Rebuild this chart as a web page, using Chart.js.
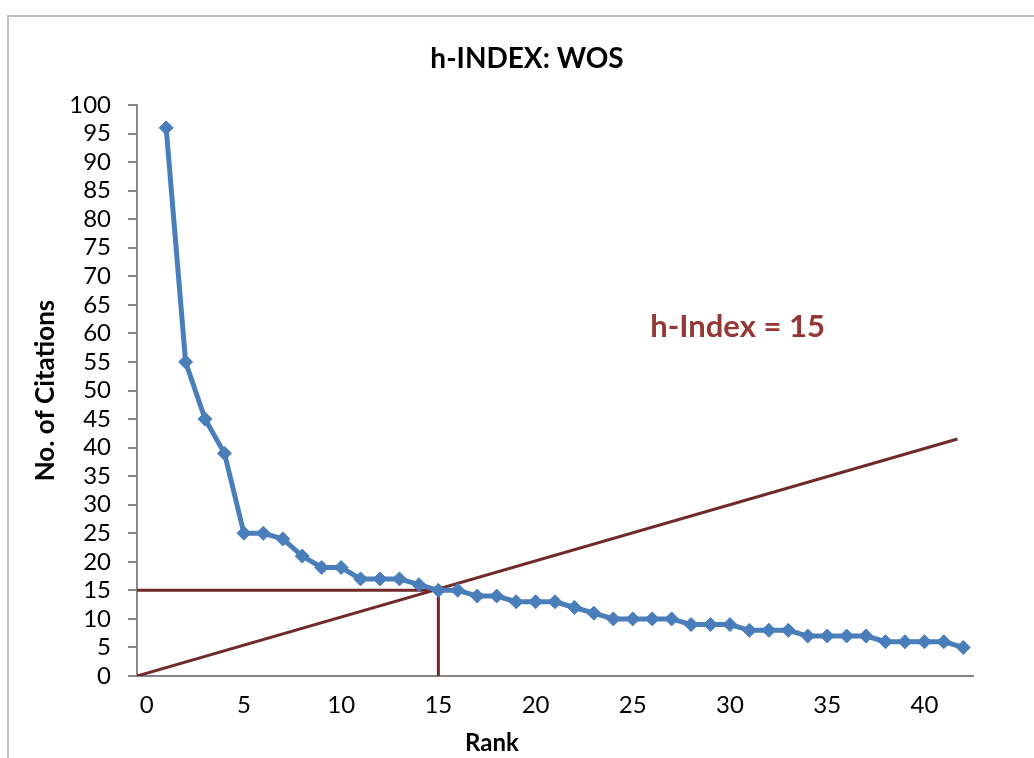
<!DOCTYPE html>
<html><head><meta charset="utf-8">
<script src="https://cdn.jsdelivr.net/npm/chart.js@4/dist/chart.umd.min.js"></script>
<style>
html,body{margin:0;padding:0;background:#fff;overflow:hidden;width:1034px;height:758px;}
#frame{position:absolute;left:7px;top:15px;width:1040px;height:760px;border-left:2px solid #BFBFBF;border-top:2px solid #BFBFBF;}
#wrap{position:absolute;left:0;top:0;width:1034px;height:758px;}
</style></head><body>
<div id="frame"></div>
<div id="wrap"><canvas id="c" width="1034" height="758"></canvas></div>
<script>
const ranks = [1,2,3,4,5,6,7,8,9,10,11,12,13,14,15,16,17,18,19,20,21,22,23,24,25,26,27,28,29,30,31,32,33,34,35,36,37,38,39,40,41,42];
const citations = [96,55,45,39,25,25,24,21,19,19,17,17,17,16,15,15,14,14,13,13,13,12,11,10,10,10,10,9,9,9,8,8,8,7,7,7,7,6,6,6,6,5];
const xTickValues = [0,5,10,15,20,25,30,35,40];
const yTickValues = [0,5,10,15,20,25,30,35,40,45,50,55,60,65,70,75,80,85,90,95,100];
const hIndexLineX = [-0.5,15,15];
const hIndexLineY = [15,15,0];
const diagonalX = [-0.5,41.7];
const diagonalY = [0,41.5];
const titleText = 'h-INDEX: WOS';
const xTitleText = 'Rank';
const annotationText = 'h-Index = 15';
const annotationAt = [25.9, 61.2];

const FONT = 'Lato';
const textPlugin = {
  id:'texts',
  afterDatasetsDraw(chart){
    const {ctx, scales:{x,y}} = chart;
    ctx.save();
    ctx.textBaseline = 'middle';
    ctx.fillStyle = '#000';
    ctx.textAlign = 'center';
    ctx.font = 'bold 28px ' + FONT;
    ctx.fillText(titleText, 527, 59);
    ctx.font = 'bold 24px ' + FONT;
    ctx.fillText(xTitleText, 492, 743);
    ctx.font = 'bold 31px ' + FONT;
    ctx.fillStyle = '#953735';
    ctx.textAlign = 'left';
    ctx.fillText(annotationText, x.getPixelForValue(annotationAt[0]), y.getPixelForValue(annotationAt[1]));
    ctx.restore();
  }
};

new Chart(document.getElementById('c'), {
  type:'scatter',
  data:{
    datasets:[
      {data: ranks.map((r,i)=>({x:r,y:citations[i]})), showLine:true, borderColor:'#4A7EBB', backgroundColor:'#4A7EBB',
       borderWidth:5, pointStyle:'rectRot', pointRadius:7, pointBorderWidth:1, pointBorderColor:'#4A7EBB', order:1},
      {data: hIndexLineX.map((v,i)=>({x:v,y:hIndexLineY[i]})), showLine:true, borderColor:'#702A2A', borderWidth:3, pointRadius:0, order:2},
      {data: diagonalX.map((v,i)=>({x:v,y:diagonalY[i]})), showLine:true, borderColor:'#702A2A', borderWidth:3, pointRadius:0, order:2}
    ]
  },
  options:{
    responsive:false, animation:false, devicePixelRatio:1,
    layout:{padding:{left:8,right:61,top:105,bottom:0}},
    plugins:{ legend:{display:false}, tooltip:{enabled:false}, title:{display:false} },
    scales:{
      x:{type:'linear', min:-0.5, max:42.5,
        afterBuildTicks:s=>{s.ticks = xTickValues.map(v=>({value:v}));},
        afterFit:s=>{s.height = 82;},
        grid:{display:true, drawOnChartArea:false, drawTicks:false},
        border:{display:true, color:'#868686', width:2},
        ticks:{color:'#000', font:{family:FONT,size:24}, padding:15, maxRotation:0, autoSkip:false}
      },
      y:{min:0, max:100,
        afterBuildTicks:s=>{s.ticks = yTickValues.map(v=>({value:v}));},
        afterFit:s=>{s.width = 129;},
        grid:{display:true, drawOnChartArea:false, drawTicks:true, tickLength:9, color:'#868686', lineWidth:2},
        border:{display:true, color:'#868686', width:2},
        ticks:{color:'#000', font:{family:FONT,size:24}, padding:17, autoSkip:false},
        title:{display:true, text:'No. of Citations', color:'#000', font:{family:FONT,size:26,weight:'bold'}, padding:{top:22,bottom:0}}
      }
    }
  },
  plugins:[textPlugin]
});
</script>
</body></html>
